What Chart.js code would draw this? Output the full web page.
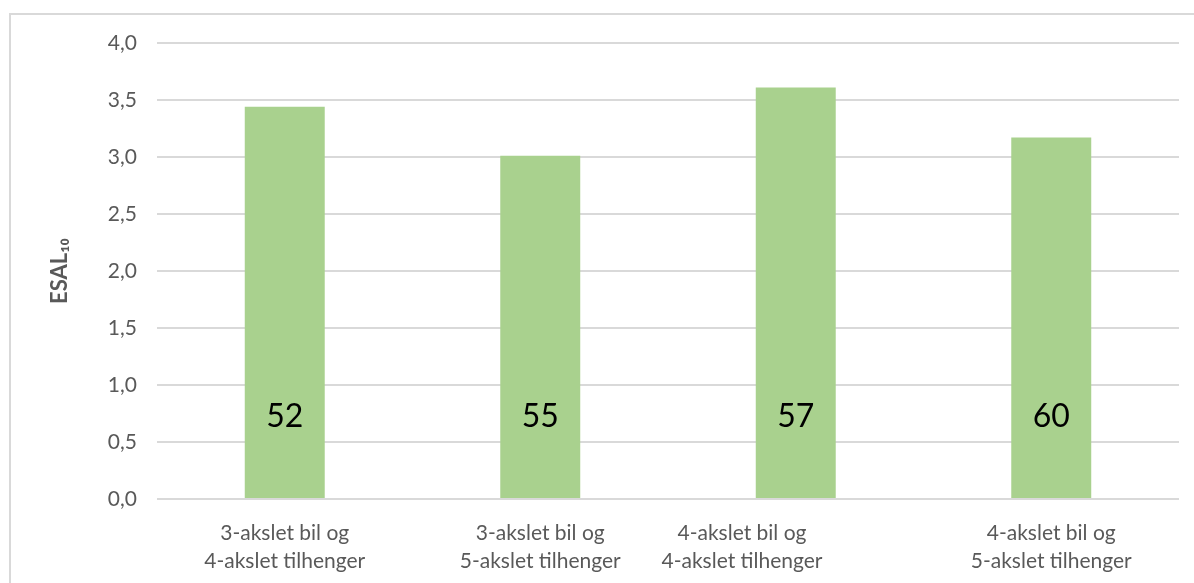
<!DOCTYPE html>
<html>
<head>
<meta charset="utf-8">
<script src="https://cdn.jsdelivr.net/npm/chart.js@4.4.0/dist/chart.umd.min.js"></script>
<style>
  html, body { margin: 0; padding: 0; background: #fff; overflow: hidden; }
  #ramme { position: absolute; left: 9px; top: 13px; width: 1300px; height: 700px; border: 2px solid #d9d9d9; box-sizing: border-box; }
  #boks { position: absolute; left: 0; top: 0; width: 1194px; height: 583px; }
</style>
</head>
<body>
<div id="ramme"></div>
<div id="boks"><canvas id="myChart"></canvas></div>
<script>
    /*** Data */
    var kategorier = [
        ["3-akslet bil og", "4-akslet tilhenger"],
        ["3-akslet bil og", "5-akslet tilhenger"],
        ["4-akslet bil og", "4-akslet tilhenger"],
        ["4-akslet bil og", "5-akslet tilhenger"]
    ];
    var esal10 = [3.44, 3.01, 3.61, 3.17];
    var antall = [52, 55, 57, 60];   // tall skrevet inne i søylene
    var yTicks = [0, 0.5, 1, 1.5, 2, 2.5, 3, 3.5, 4];

    var skrift = "Lato, 'Open Sans', sans-serif";
    var gra = '#595959';

    // tekst inne i søylene
    var antallPlugin = {
        id: 'antall',
        afterDatasetsDraw: function(chart) {
            var ctx = chart.ctx;
            var meta = chart.getDatasetMeta(0);
            var y = chart.scales.y.getPixelForValue(0.72);
            ctx.save();
            ctx.fillStyle = '#000';
            ctx.font = '32px ' + skrift;
            ctx.textAlign = 'center';
            ctx.textBaseline = 'middle';
            meta.data.forEach(function(bar, i) {
                ctx.fillText(String(antall[i]), bar.x, y);
            });
            ctx.restore();
        }
    };

    var ctx = document.getElementById("myChart").getContext('2d');
    var myChart = new Chart(ctx, {
        type: 'bar',
        data: {
            labels: kategorier,
            datasets: [{
                label: 'ESAL10',
                data: esal10,
                backgroundColor: '#a9d18e',
                borderWidth: 0,
                categoryPercentage: 1,
                barPercentage: 0.313
            }]
        },
        options: {
            responsive: true,
            maintainAspectRatio: false,
            animation: false,
            layout: { padding: { left: 45, top: 43, right: 15, bottom: 0 } },
            plugins: {
                legend: { display: false },
                tooltip: { enabled: false }
            },
            scales: {
                x: {
                    grid: { display: false },
                    border: { display: false },
                    ticks: {
                        color: gra,
                        font: { family: skrift, size: 21, lineHeight: 1.35 },
                        padding: 12,
                        maxRotation: 0,
                        autoSkip: false,
                        callback: function(value, index) {
                            var linjer = kategorier[index];
                            // tredje etikett står litt til venstre for søylen
                            if (index === 2) {
                                return linjer.map(function(l) { return l + ' '.repeat(20); });
                            }
                            return linjer;
                        }
                    },
                    afterFit: function(scale) { scale.height = 84; }
                },
                y: {
                    min: 0,
                    max: 4,
                    afterBuildTicks: function(scale) {
                        scale.ticks = yTicks.map(function(v) { return { value: v }; });
                    },
                    grid: { color: '#d9d9d9', lineWidth: 2, drawTicks: false },
                    border: { display: false },
                    ticks: {
                        color: gra,
                        font: { family: skrift, size: 21 },
                        padding: 20,
                        callback: function(value) { return value.toFixed(1).replace('.', ','); }
                    },
                    title: {
                        display: true,
                        text: 'ESAL\u2081\u2080',
                        color: gra,
                        font: { family: skrift, size: 22, weight: 'bold' },
                        padding: 2
                    },
                    afterFit: function(scale) { scale.width = 112; }
                }
            }
        },
        plugins: [antallPlugin]
    });
</script>
</body>
</html>
